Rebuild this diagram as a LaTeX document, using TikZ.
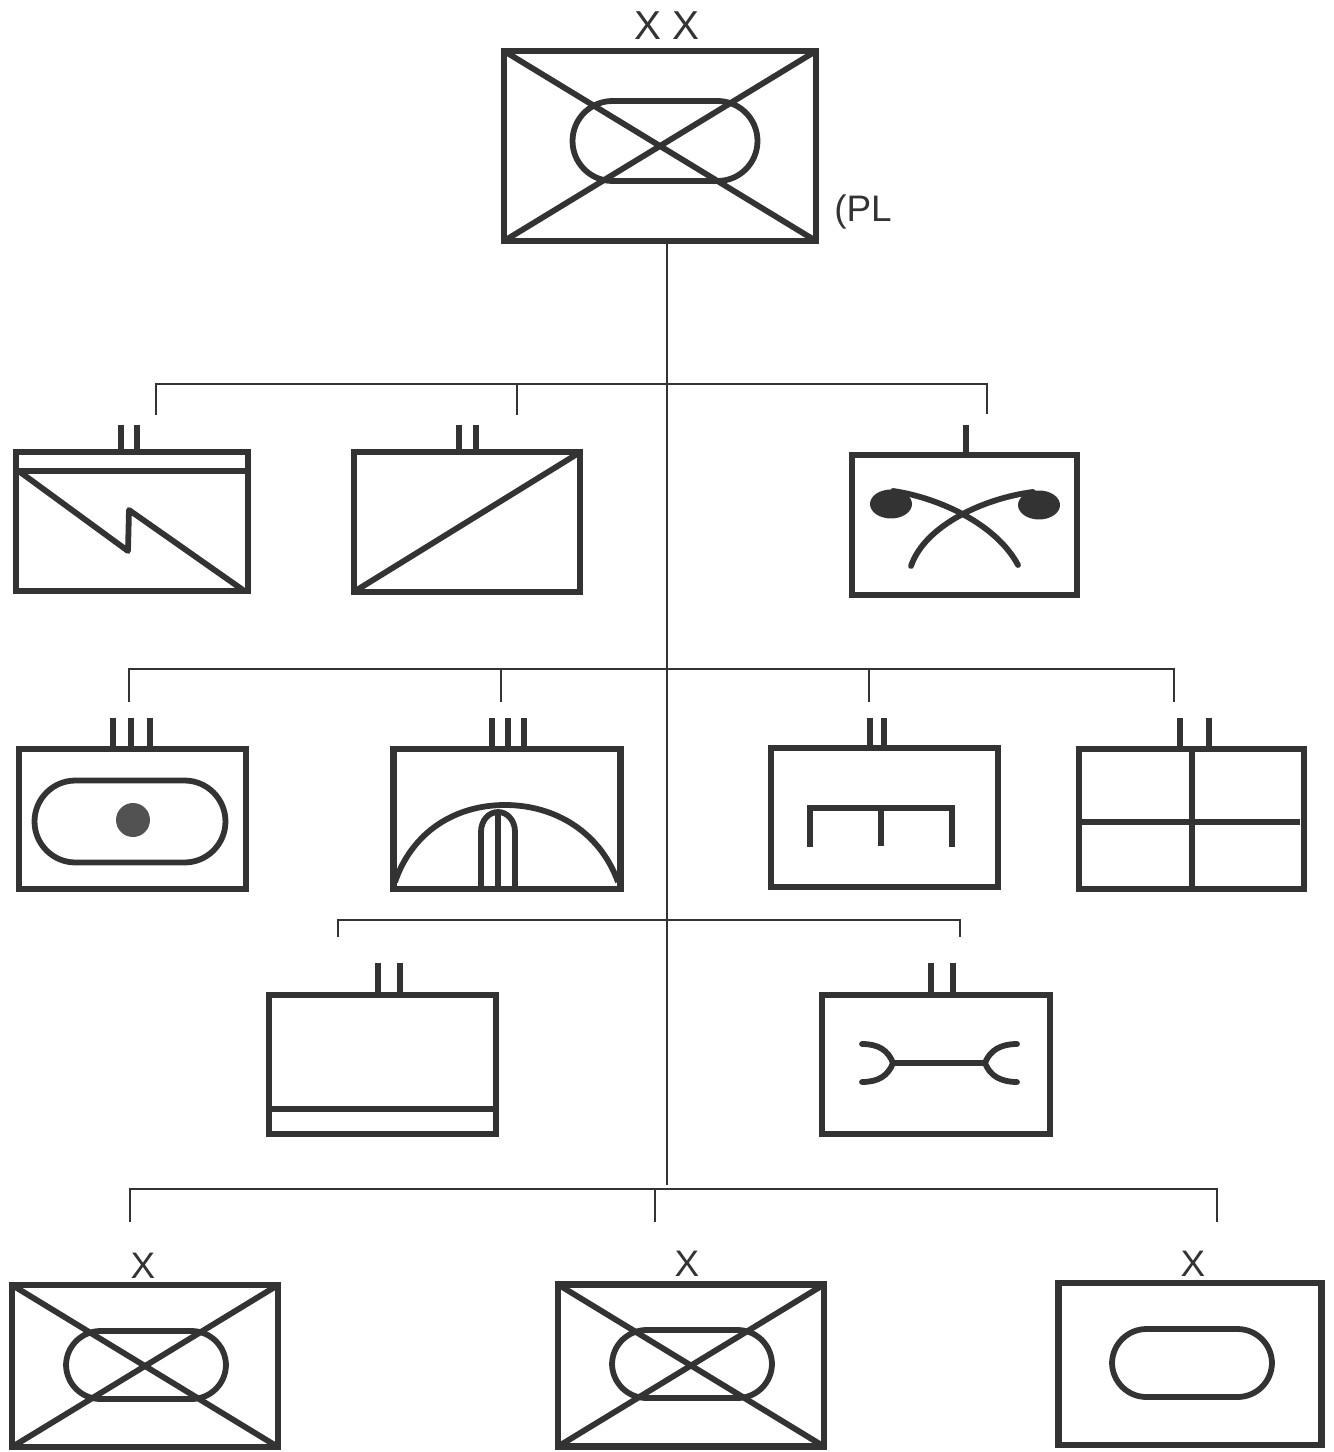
\documentclass[tikz,border=0pt]{standalone}
\usepackage{fontspec}
\setmainfont{Liberation Sans}
\usetikzlibrary{positioning}

\definecolor{ink}{HTML}{333333}
\tikzset{
  echelon/.style={draw=ink,line width=3.6pt,outer sep=0pt,inner sep=0pt,minimum width=4.54cm,minimum height=2.79cm},
  bigbox/.style={minimum width=5.32cm,minimum height=3.24cm},
  pill/.style={draw=ink,line width=3.3pt,outer sep=0pt,inner sep=0pt,rounded corners=0.69cm,minimum width=3.2cm,minimum height=1.36cm},
  glyph/.style={line width=3.3pt,draw=ink},
  tick/.style={line width=3.8pt,draw=ink},
  link/.style={line width=1pt,draw=ink},
  sizetext/.style={font=\fontsize{23}{23}\selectfont,text=ink,inner sep=0pt}
}

\begin{document}
\begin{tikzpicture}[x=0.02cm,y=-0.02cm]
\useasboundingbox (0,0) rectangle (1333,1452);

\node[echelon,minimum width=6.24cm,minimum height=3.8cm] (corps) at (660,146) {};
\node[echelon,minimum width=4.64cm] (signal)  at (132,521.5) {};
\node[echelon,minimum width=4.52cm] (supply)  at (467,522) {};
\node[echelon,minimum width=4.5cm] (arty)    at (964.5,525) {};
\node[echelon] (armour)  at (132.5,819) {};
\node[echelon] (dome)    at (507,819) {};
\node[echelon] (comb)    at (884.5,817.5) {};
\node[echelon,minimum width=4.5cm] (medical) at (1191.5,819) {};
\node[echelon] (base)    at (382.5,1064.5) {};
\node[echelon,minimum width=4.56cm] (repair)  at (936,1064.5) {};
\node[echelon,bigbox] (bdeA) at (145,1366) {};
\node[echelon,bigbox] (bdeB) at (691,1365.5) {};
\node[echelon,bigbox,minimum width=5.26cm] (bdeC) at (1190,1364) {};

\node[pill,minimum width=3.7cm,minimum height=1.6cm,rounded corners=0.8cm] (corpsPill) at (665,141) {};
\node[pill] (pillA) at (146,1365) {};
\node[pill] (pillB) at (692,1364) {};
\node[pill] (pillC) at (1192,1363) {};
\node[pill,minimum width=3.82cm,minimum height=1.64cm,rounded corners=0.82cm] (armourPill) at (130,821.5) {};

\node[sizetext] (corpsSize) at (667,26) {X X};
\node[sizetext,font=\fontsize{21}{21}\selectfont] (plLabel) at (863,212) {(PL};
\node[sizetext,font=\fontsize{21}{21}\selectfont] (sizeA) at (143,1266) {X};
\node[sizetext,font=\fontsize{21}{21}\selectfont] (sizeB) at (687,1264) {X};
\node[sizetext,font=\fontsize{21}{21}\selectfont] (sizeC) at (1193,1264) {X};

% crosses
\foreach \n in {corps,bdeA,bdeB}{
  \draw[glyph] (\n.north west) -- (\n.south east);
  \draw[glyph] (\n.north east) -- (\n.south west);
}

% rank ticks
\foreach \n/\x/\y in {signal/121/425,signal/137/425,supply/459/425,supply/476/425,arty/966/425,
  armour/113/718,armour/131/718,armour/150/718,dome/492/718,dome/508/718,dome/524/718,
  comb/870/718,comb/884/718,medical/1180/718,medical/1209/718,
  base/378/963,base/400/963,repair/931/963,repair/953/963}
  \draw[tick] (\x,\y) -- (\x,0 |- \n.north);

% tree
\coordinate (busOne)   at (667,384);
\coordinate (trunkEnd) at (667,1185);
\path[link] (corps.south -| busOne) edge (trunkEnd);
\draw[link] (156,415) -- (156,384) -- (987,384) -- (987,414);
\draw[link] (517,384) -- (517,415);
\draw[link] (129,702) -- (129,669) -- (1174,669) -- (1174,702);
\draw[link] (501,669) -- (501,702);
\draw[link] (869,669) -- (869,702);
\draw[link] (338,937) -- (338,920) -- (960,920) -- (960,937);
\draw[link] (130,1222) -- (130,1189) -- (1217,1189) -- (1217,1222);
\draw[link] (655,1189) -- (655,1222);

% signal
\draw[glyph] (signal.west |- 0,471) -- (signal.east |- 0,471);
\draw[glyph,line join=round] (20,472) -- (128,551) -- (129,510) -- (243,590);
% supply
\draw[glyph] (supply.south west) -- (supply.north east);
% crossed guns
\fill[ink] (891,504) ellipse [x radius=0.42cm,y radius=0.29cm];
\fill[ink] (1039,505) ellipse [x radius=0.42cm,y radius=0.29cm];
\draw[glyph,line cap=round] (893,491) .. controls (935,497) and (995,522) .. (1018,565);
\draw[glyph,line cap=round] (1033,492) .. controls (985,498) and (925,525) .. (911,566);
% armour dot
\fill[ink!85] (133,820) circle [radius=0.34cm];
% dome
\draw[glyph] (395,882) .. controls (412,832) and (455,805) .. (505,805) .. controls (555,805) and (600,832) .. (618,882);
\draw[glyph] (481,888) -- (481,832) .. controls (481,820) and (489,812) .. (498,812) .. controls (507,812) and (515,820) .. (515,832) -- (515,888);
\draw[glyph] (498,812) -- (498,888);
% comb
\draw[glyph] (810,847) -- (810,808) -- (952,808) -- (952,847);
\draw[glyph] (881,808) -- (881,846);
% medical cross
\draw[glyph] (1082,822) -- (1300,822);
\draw[glyph] (1192,750) -- (1192,888);
% base line
\draw[glyph] (base.west |- 0,1109) -- (base.east |- 0,1109);
% wrench
\draw[glyph] (893,1063) -- (985,1063);
\draw[glyph,line cap=round] (862,1044) .. controls (878,1044) and (888,1050) .. (893,1063) .. controls (888,1076) and (878,1082) .. (862,1082);
\draw[glyph,line cap=round] (1017,1044) .. controls (1001,1044) and (990,1050) .. (985,1063) .. controls (990,1076) and (1001,1082) .. (1017,1082);

\end{tikzpicture}
\end{document}
